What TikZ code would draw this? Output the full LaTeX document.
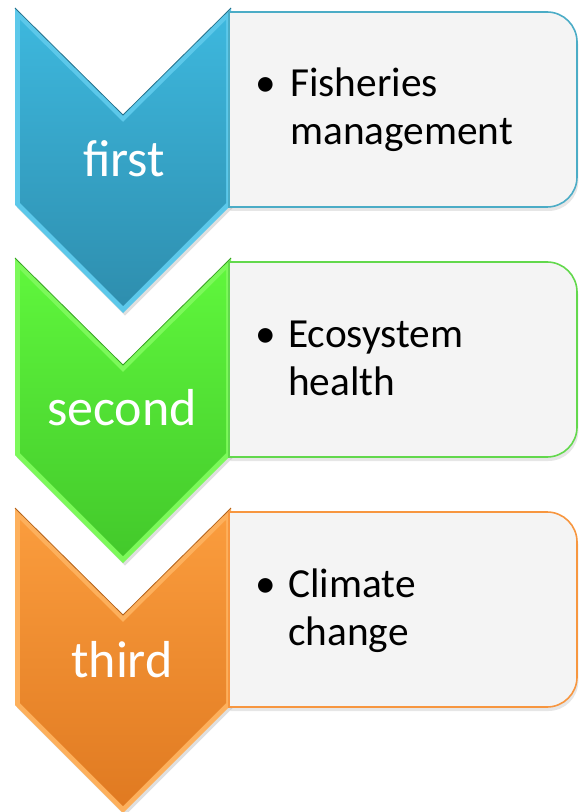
\documentclass[tikz,border=0pt]{standalone}
\usepackage{fontspec}
\setmainfont{Carlito}
\usetikzlibrary{shadows}
\definecolor{blueedge}{HTML}{5CC8EA}
\definecolor{bluetop}{HTML}{3DB7DD}
\definecolor{bluebot}{HTML}{2E8EAE}
\definecolor{blueline}{HTML}{4BACC6}
\definecolor{greenedge}{HTML}{7CF95A}
\definecolor{greentop}{HTML}{5FF63C}
\definecolor{greenbot}{HTML}{43C92B}
\definecolor{greenline}{HTML}{62D84C}
\definecolor{orangeedge}{HTML}{FDB05C}
\definecolor{orangetop}{HTML}{FA9C3D}
\definecolor{orangebot}{HTML}{E07A21}
\definecolor{orangeline}{HTML}{F7963F}
\definecolor{boxfill}{HTML}{F4F4F4}
\begin{document}
\begin{tikzpicture}[x=0.75pt,y=-0.75pt,
	bevel/.style={drop shadow={opacity=0.25,shadow xshift=1.5pt,shadow yshift=-2pt}},
	itembox/.style={fill=boxfill,line width=1.2pt,drop shadow={opacity=0.2,shadow xshift=1pt,shadow yshift=-3pt}},
	steplabel/.style={text=white,anchor=base,inner sep=0pt,font=\fontsize{39}{39}\selectfont},
	itemtext/.style={anchor=base west,inner sep=0pt,align=left,font=\fontsize{31}{36}\selectfont},
	dot/.style={anchor=base west,inner sep=0pt,font=\fontsize{31}{36}\selectfont}]
	\useasboundingbox (0,0) rectangle (578,812);
	% first
	\begin{scope}
		\fill[blueedge,bevel] (15,8)--(123,115)--(231,8)--(231,205)--(123,313)--(15,205)--cycle;
		\shade[top color=bluetop,bottom color=bluebot] (20,20)--(123,122)--(226,20)--(226,203)--(123,306)--(20,203)--cycle;
		\draw[bluebot!80!black,line width=0.6pt] (15,8)--(123,115)--(231,8);
		\draw[itembox,draw=blueline] (229,207)--(229,12)--(547,12) arc(-90:0:30)--(577,177) arc(0:90:30)--cycle;
		\node[steplabel] (first) at (124,177) {first};
		\node[dot] (dot1) at (255,97) {\textbullet};
		\node[itemtext] (fish) at (290,145) {Fisheries\\management};
	\end{scope}
	% second
	\begin{scope}[shift={(0,250)}]
		\fill[greenedge,bevel] (15,8)--(123,115)--(231,8)--(231,205)--(123,313)--(15,205)--cycle;
		\shade[top color=greentop,bottom color=greenbot] (20,20)--(123,122)--(226,20)--(226,203)--(123,306)--(20,203)--cycle;
		\draw[greenbot!80!black,line width=0.6pt] (15,8)--(123,115)--(231,8);
		\draw[itembox,draw=greenline] (229,207)--(229,12)--(547,12) arc(-90:0:30)--(577,177) arc(0:90:30)--cycle;
		\node[steplabel] (second) at (122,175) {second};
		\node[dot] (dot2) at (255,97) {\textbullet};
		\node[itemtext] (eco) at (288,145) {Ecosystem\\health};
	\end{scope}
	% third
	\begin{scope}[shift={(0,500)}]
		\fill[orangeedge,bevel] (15,8)--(123,115)--(231,8)--(231,205)--(123,313)--(15,205)--cycle;
		\shade[top color=orangetop,bottom color=orangebot] (20,20)--(123,122)--(226,20)--(226,203)--(123,306)--(20,203)--cycle;
		\draw[orangebot!80!black,line width=0.6pt] (15,8)--(123,115)--(231,8);
		\draw[itembox,draw=orangeline] (229,207)--(229,12)--(547,12) arc(-90:0:30)--(577,177) arc(0:90:30)--cycle;
		\node[steplabel] (third) at (122,177) {third};
		\node[dot] (dot3) at (255,97) {\textbullet};
		\node[itemtext] (clim) at (288,145) {Climate\\change};
	\end{scope}
\end{tikzpicture}
\end{document}
